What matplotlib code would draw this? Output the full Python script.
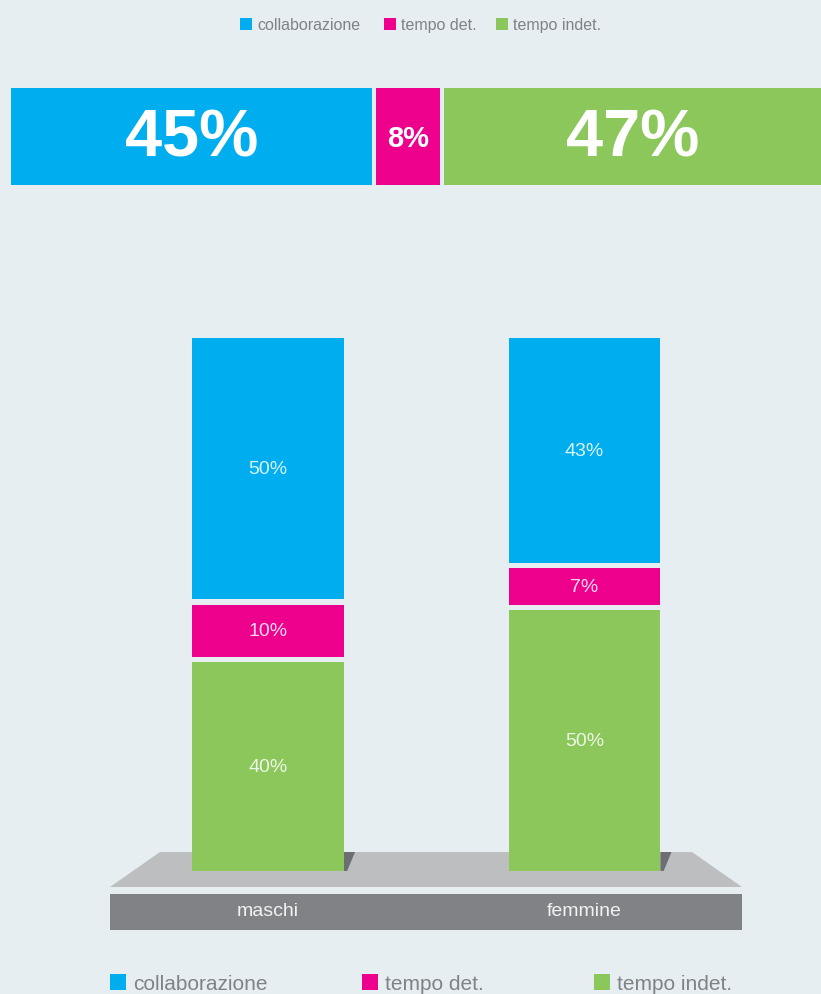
import matplotlib.pyplot as plt
from matplotlib.patches import Polygon, Rectangle
from matplotlib.transforms import blended_transform_factory

# contratti: totale e per genere
series = ['collaborazione', 'tempo det.', 'tempo indet.']
colors = ['#00aeef', '#ec008c', '#8cc75b']
totale = [45, 8, 47]
categories = ['maschi', 'femmine']
maschi = [50, 10, 40]
femmine = [43, 7, 50]

bg = '#e6eef2'
grey_txt = '#808285'
plt.rcParams['font.family'] = ['Liberation Sans', 'DejaVu Sans']

fig = plt.figure(figsize=(8.21, 9.95), dpi=100, facecolor=bg)

# pixel-space layer for the base, labels strip and legends
deco = fig.add_axes([0, 0, 1, 1], zorder=0)
deco.set_xlim(0, 821)
deco.set_ylim(995, 0)
deco.axis('off')

# base platform + strip
deco.add_patch(Polygon([(160, 853), (692, 853), (742, 888), (110, 888)],
                       closed=True, fc='#bcbec0', ec='none'))
deco.add_patch(Rectangle((110, 895), 632, 36, fc='#808285', ec='none'))

# --- horizontal total bar ---
gap_h = 0.5
top = fig.add_axes([11 / 821, (995 - 186) / 995, 810 / 821, 97 / 995], zorder=2)
top.set_xlim(0, sum(totale) + gap_h * (len(totale) - 1))
top.set_ylim(-0.5, 0.5)
top.axis('off')
left = 0
for v, c in zip(totale, colors):
    top.barh(0, v, left=left, height=1, color=c, lw=0)
    size = 48 if v > 20 else 21
    top.text(left + v / 2, -0.02, f'{v}%', ha='center', va='center',
             color='white', fontsize=size, fontweight='bold')
    left += v + gap_h

# --- stacked columns ---
gap_v = 1.0
width = 0.48
ax = fig.add_axes([0, 123 / 995, 1, 533 / 995], zorder=2)
ax.set_xlim(-268 / 316.5, (821 - 268) / 316.5)
ax.set_ylim(0, 100 + 2 * gap_v)
ax.axis('off')
ax.patch.set_alpha(0)

mixed = blended_transform_factory(ax.transData, deco.transData)
for i, (name, vals) in enumerate(zip(categories, [maschi, femmine])):
    # dark shadow at the foot of each column
    r = i + width / 2
    deco.add_patch(Polygon([(r, 853), (r + 0.035, 853), (r + 0.01, 872), (r, 872)],
                           closed=True, fc='#6d6e71', ec='none', transform=mixed))
    bottom = 0
    for v, c in reversed(list(zip(vals, colors))):
        ax.bar(i, v, bottom=bottom, width=width, color=c, lw=0)
        ax.text(i, bottom + v / 2, f'{v}%', ha='center', va='center',
                color='white', alpha=0.85, fontsize=14)
        bottom += v + gap_v
    deco.text(i, 912, name, ha='center', va='center', color='#f2f2f2',
              fontsize=14, transform=mixed)

# --- legends (top small, bottom large) ---
for x, lab, c in zip([240, 384, 496], series, colors):
    deco.add_patch(Rectangle((x, 19), 12, 12, fc=c, ec='none'))
    deco.text(x + 17, 25.5, lab, ha='left', va='center', color=grey_txt, fontsize=11.5)

for x, lab, c in zip([110, 362, 594], series, colors):
    deco.add_patch(Rectangle((x, 975), 16, 16, fc=c, ec='none'))
    deco.text(x + 23, 984, lab, ha='left', va='center', color=grey_txt, fontsize=15)

fig.savefig('out.png', dpi=100, facecolor=bg)
